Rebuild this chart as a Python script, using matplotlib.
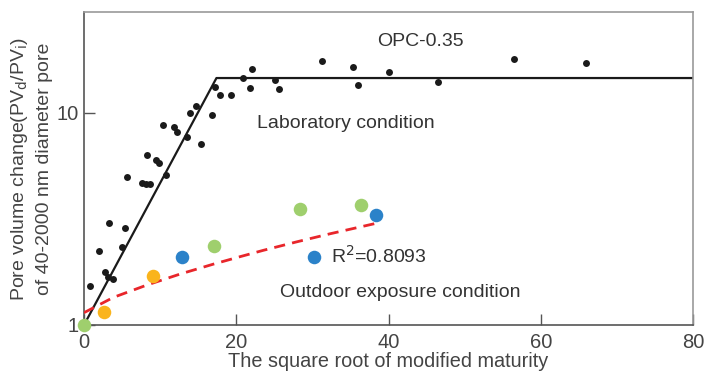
import matplotlib
matplotlib.use("Agg")
import matplotlib.pyplot as plt

plt.rcParams['font.family'] = ['Liberation Sans', 'DejaVu Sans']

# Laboratory condition (black dots)
lab_x = [0.79, 2.01, 2.76, 3.15, 3.85, 3.32, 5.39, 5.03, 5.61, 7.58, 8.10, 8.67, 10.77,
         8.24, 9.46, 9.89, 10.42, 11.86, 12.26, 13.49, 15.33, 13.92, 14.67, 16.78,
         17.21, 17.87, 19.27, 20.93, 22.11, 21.81, 25.09, 25.58, 31.22, 35.30, 36.03,
         40.07, 46.54, 56.53, 65.90]
lab_y = [1.53, 2.24, 1.77, 1.68, 1.64, 3.03, 2.86, 2.32, 5.01, 4.69, 4.62, 4.62, 5.10,
         6.34, 6.00, 5.83, 8.78, 8.56, 8.16, 7.68, 7.14, 9.97, 10.79, 9.79,
         13.3, 12.17, 12.17, 14.58, 16.13, 13.16, 14.31, 12.98, 17.65, 16.54, 13.55,
         15.53, 13.96, 17.92, 17.16]

# Bilinear fit line (laboratory)
fit_x = [0.0, 17.4, 80.0]
fit_y = [1.0, 14.6, 14.6]

# Outdoor exposure points
green_x = [0.0, 17.08, 28.37, 36.35]
green_y = [1.0, 2.37, 3.51, 3.68]
orange_x = [2.6, 9.02]
orange_y = [1.15, 1.71]
blue_x = [12.83, 30.25, 38.36]
blue_y = [2.085, 2.085, 3.30]

# Outdoor regression curve
reg_x = [0.0, 3.85, 8.24, 12.61, 16.99, 20.49, 23.55, 27.94, 32.32, 38.45]
reg_y = [1.143, 1.349, 1.542, 1.738, 1.936, 2.099, 2.249, 2.466, 2.692, 3.020]

fig = plt.figure(figsize=(7.05, 3.72), dpi=100)
ax = fig.add_axes([84/705, 1-325/372, (693-84)/705, (325-12)/372])
ax.set_yscale('log')
ax.set_xlim(0, 80)
ax.set_ylim(1, 29.9)

ax.plot(fit_x, fit_y, color='#1a1a1a', lw=1.6, zorder=2)
ax.plot(reg_x, reg_y, color='#e8262b', lw=2.0, dashes=(4, 2.6), zorder=3)
ax.plot(lab_x, lab_y, 'o', color='#1a1a1a', ms=5, mew=0, zorder=4)
ax.scatter(green_x, green_y, s=95, color='#9fcf6d', lw=0, zorder=5, clip_on=False)
ax.scatter(orange_x, orange_y, s=95, color='#fab41c', lw=0, zorder=5, clip_on=False)
ax.scatter(blue_x, blue_y, s=95, color='#2b82c9', lw=0, zorder=5, clip_on=False)

txt = '#333333'
ax.text(38.5, 21.7, 'OPC-0.35', fontsize=14, color=txt, va='center', ha='left')
ax.text(22.7, 8.87, 'Laboratory condition', fontsize=14, color=txt, va='center', ha='left')
ax.text(32.5, 2.12, 'R$^2$=0.8093', fontsize=14, color=txt, va='center', ha='left')
ax.text(25.75, 1.42, 'Outdoor exposure condition', fontsize=14, color=txt, va='center', ha='left')

ax.set_xticks([0, 20, 40, 60, 80])
ax.set_yticks([1, 10])
ax.set_yticklabels(['1', '10'])
ax.minorticks_off()
ax.tick_params(direction='in', length=8, width=1, color='#555555', labelsize=14.5,
               labelcolor='#444444')
ax.tick_params(axis='x', pad=6)
ax.tick_params(axis='y', pad=4)
for s in ['left', 'bottom']:
    ax.spines[s].set_color('#555555')
    ax.spines[s].set_linewidth(1.2)
for s in ['top', 'right']:
    ax.spines[s].set_color('#999999')
    ax.spines[s].set_linewidth(1.2)

ax.set_xlabel('The square root of modified maturity', fontsize=14.3, color='#444444', labelpad=0)
fig.text(20/705, 1-169/372, 'Pore volume change(PV$_{\\rm d}$/PV$_{\\rm i}$)', rotation=90,
         fontsize=14, color='#444444', ha='center', va='center')
fig.text(45/705, 1-169/372, 'of 40-2000 nm diameter pore', rotation=90,
         fontsize=14, color='#444444', ha='center', va='center')

fig.savefig('out.png', dpi=100)
